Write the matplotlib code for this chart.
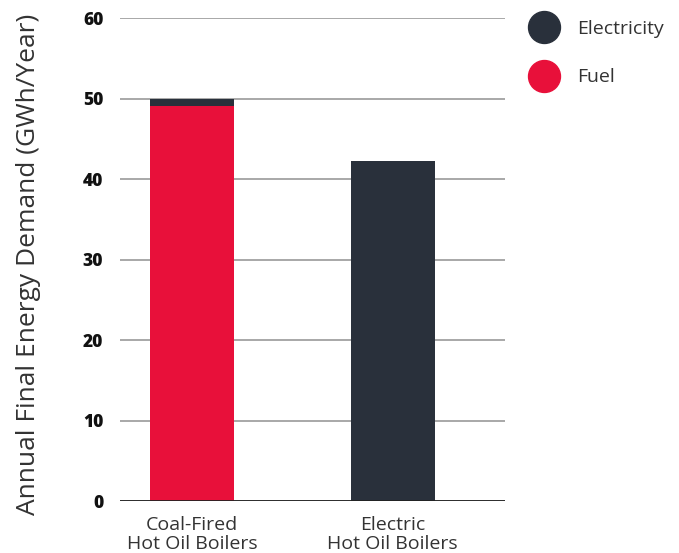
import matplotlib.pyplot as plt
from matplotlib.lines import Line2D

plt.rcParams['font.family'] = ['Open Sans', 'DejaVu Sans']

categories = ['Coal-Fired\nHot Oil Boilers', 'Electric\nHot Oil Boilers']
fuel = [49.1, 0]
electricity = [0.9, 42.2]

red = '#E8103A'
dark = '#29303B'
txt = '#333333'

fig = plt.figure(figsize=(6.79, 5.53), dpi=100)
ax = fig.add_axes([0.1767, 0.094, 0.567, 0.8734])

x = range(len(categories))
ax.bar(x, fuel, width=0.42, color=red, zorder=3)
ax.bar(x, electricity, width=0.42, bottom=fuel, color=dark, zorder=3)

ax.set_xlim(-0.36, 1.56)
ax.set_ylim(0, 60)
ax.set_yticks(range(0, 61, 10))
ax.yaxis.grid(True, color='#9a9a9a', linewidth=1.2, zorder=0)
ax.axhline(0, color='#222222', linewidth=2, zorder=4)
for s in ax.spines.values():
    s.set_visible(False)
ax.tick_params(axis='y', length=0, pad=12, labelsize=12.5, labelcolor='#111111')
for lab in ax.get_yticklabels():
    lab.set_fontweight('heavy')
ax.set_xticks(list(x))
ax.set_xticklabels(categories, fontsize=14, color=txt, linespacing=1.05)
ax.tick_params(axis='x', length=0, pad=11)
ax.set_ylabel('Annual Final Energy Demand (GWh/Year)', fontsize=19, color=txt)
ax.yaxis.set_label_coords(-0.205, 0.49)

handles = [Line2D([], [], marker='o', linestyle='', markersize=23, color=dark),
           Line2D([], [], marker='o', linestyle='', markersize=23, color=red)]
leg = fig.legend(handles, ['Electricity', 'Fuel'], loc='upper left',
                 bbox_to_anchor=(0.755, 0.995), frameon=False, fontsize=14,
                 labelspacing=1.55, handletextpad=1.0, handlelength=1.4, labelcolor=txt)

fig.savefig('out.png', dpi=100)
